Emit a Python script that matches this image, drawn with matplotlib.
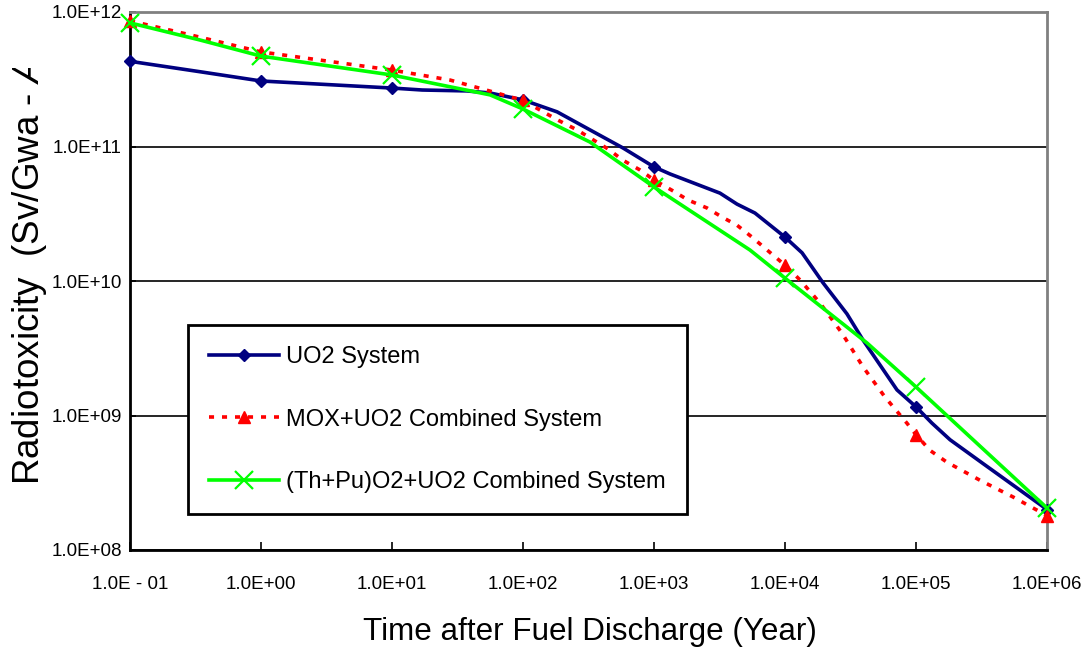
import math
import matplotlib
matplotlib.use("Agg")
import matplotlib.pyplot as plt
from matplotlib.ticker import FixedLocator, FuncFormatter
from matplotlib.transforms import Bbox, TransformedBbox

plt.rcParams['font.family'] = ['Liberation Sans', 'DejaVu Sans']
plt.rcParams['mathtext.fontset'] = 'custom'
plt.rcParams['mathtext.it'] = 'Liberation Sans:italic'

# decades where the markers sit
decades = [0.1, 1, 10, 100, 1e3, 1e4, 1e5, 1e6]

# UO2 System
uo2_x = [0.1, 0.34, 1, 10, 17, 37, 56, 100, 182, 324, 580, 1000, 1325, 3190, 4300, 5900,
         1e4, 13500, 19500, 29700, 39400, 71600, 1e5, 132000, 182000, 324000, 1e6]
uo2_y = [4.3e11, 3.6e11, 3.07e11, 2.72e11, 2.63e11, 2.59e11, 2.5e11, 2.22e11, 1.81e11, 1.33e11,
         9.75e10, 7.05e10, 6.25e10, 4.5e10, 3.73e10, 3.2e10, 2.12e10, 1.62e10, 9.7e9, 5.7e9,
         3.64e9, 1.55e9, 1.16e9, 8.8e8, 6.6e8, 4.4e8, 2.0e8]

# MOX+UO2 Combined System
mox_x = [0.1, 0.3, 1, 10, 27.7, 49.5, 100, 185, 258, 445, 580, 780, 1000, 1400, 1820, 2540,
         3300, 4300, 5600, 7300, 1e4, 13000, 18500, 27200, 39400, 58000, 85000, 1e5, 128000,
         172000, 308000, 550000, 1e6]
mox_y = [8.6e11, 6.7e11, 5.05e11, 3.7e11, 3.12e11, 2.67e11, 2.2e11, 1.57e11, 1.33e11, 9.6e10,
         7.9e10, 6.7e10, 5.64e10, 4.67e10, 4.0e10, 3.49e10, 2.99e10, 2.6e10, 2.12e10, 1.7e10,
         1.31e10, 1.02e10, 6.86e9, 4.1e9, 2.3e9, 1.37e9, 8.8e8, 7.2e8, 5.5e8, 4.5e8, 3.3e8,
         2.48e8, 1.8e8]

# (Th+Pu)O2+UO2 Combined System
thpu_x = [0.1, 0.34, 1, 10, 56, 100, 324, 1000, 5400, 1e4, 42300, 1e5, 1e6]
thpu_y = [8.3e11, 6.2e11, 4.7e11, 3.4e11, 2.42e11, 1.9e11, 1.08e11, 5.0e10, 1.7e10, 1.05e10,
          3.46e9, 1.63e9, 2.05e8]

labels = ['UO2 System', 'MOX+UO2 Combined System', '(Th+Pu)O2+UO2 Combined System']


def marks(xs):
    return [i for i, v in enumerate(xs) if v in decades]


fig = plt.figure(figsize=(10.91, 6.60), dpi=100)
ax = fig.add_axes([130 / 1091, 1 - 550 / 660, 917 / 1091, 538 / 660])

ax.plot(uo2_x, uo2_y, color='#000080', lw=2.6, marker='D', ms=6.5, markevery=marks(uo2_x),
        label=labels[0], clip_on=False, zorder=3)
ax.plot(mox_x, mox_y, color='#ff0000', lw=2.6, ls=(0, (1.4, 2.2)), marker='^', ms=9,
        markevery=marks(mox_x), label=labels[1], clip_on=False, zorder=4)
ax.plot(thpu_x, thpu_y, color='#00ff00', lw=2.6, marker='x', ms=13, mew=1.6,
        markevery=marks(thpu_x), label=labels[2], clip_on=False, zorder=5)

ax.set_xscale('log')
ax.set_yscale('log')
ax.set_xlim(0.1, 1e6)
ax.set_ylim(1e8, 1e12)

ax.xaxis.set_major_locator(FixedLocator(decades))
ax.yaxis.set_major_locator(FixedLocator([1e8, 1e9, 1e10, 1e11, 1e12]))
ax.xaxis.set_minor_locator(FixedLocator([]))
ax.yaxis.set_minor_locator(FixedLocator([]))


def sci(v, pos):
    e = int(round(math.log10(v)))
    if e < 0:
        return '1.0E - %02d' % -e
    return '1.0E+%02d' % e


ax.xaxis.set_major_formatter(FuncFormatter(sci))
ax.yaxis.set_major_formatter(FuncFormatter(sci))
ax.tick_params(axis='x', direction='in', length=6, width=1.2, labelsize=13.5, pad=19)
ax.tick_params(axis='y', direction='in', length=4, width=1.2, labelsize=13.5, pad=6)

ax.grid(axis='y', color='black', lw=1.2)
ax.set_axisbelow(True)
for s in ['left', 'bottom']:
    ax.spines[s].set_color('black')
    ax.spines[s].set_linewidth(2)
for s in ['top', 'right']:
    ax.spines[s].set_color('#808080')
    ax.spines[s].set_linewidth(2)

fig.text(590 / 1091, 1 - 632 / 660, 'Time after Fuel Discharge (Year)', fontsize=22.6,
         ha='center', va='center')
# y label is cut off near its top in the original
ylab = fig.text(30 / 1091, 1 - 485 / 660, r'Radiotoxicity  (Sv/Gwa - $\mathit{A}$', fontsize=26.5,
                rotation=90, ha='center', va='bottom')
ylab.set_clip_box(TransformedBbox(Bbox([[0, 0], [1, 1 - 68 / 660]]), fig.transFigure))
ylab.set_clip_on(True)

leg = ax.legend(loc='upper left', bbox_to_anchor=(188 / 1091, 1 - 325 / 660),
                bbox_transform=fig.transFigure, fontsize=17, frameon=True, fancybox=False,
                edgecolor='black', framealpha=1, handlelength=2.95, handletextpad=0.3,
                labelspacing=1.71, borderpad=0.9, borderaxespad=0)
leg.get_frame().set_linewidth(2)

fig.savefig('out.png', dpi=100)
